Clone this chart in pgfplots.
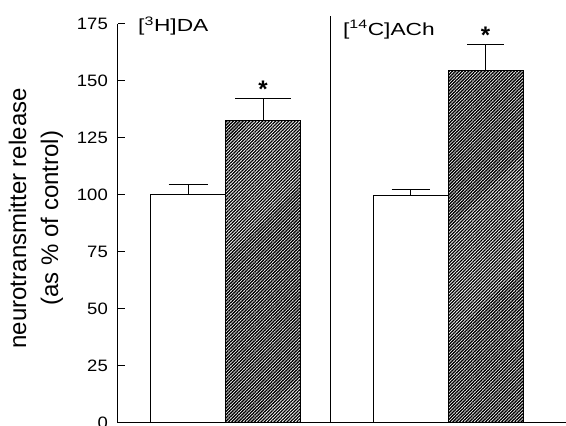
\documentclass[border=0pt]{standalone}
\usepackage{fontspec}
\setmainfont{Liberation Sans}
\usepackage{pgfplots}
\pgfplotsset{compat=1.18}
\usetikzlibrary{patterns.meta}
\begin{document}
\begin{tikzpicture}[x=1pt,y=1pt]
\useasboundingbox (0,0) rectangle (566,426);
\begin{axis}[
  at={(118pt,3pt)}, anchor=south west,
  scale only axis, width=448pt, height=399pt,
  xmin=0, xmax=5.973, ymin=0, ymax=175,
  axis x line=bottom, axis y line=left,
  axis line style={-, line width=1pt, black},
  xtick=\empty, ytick={0,25,...,175},
  tick align=inside, major tick length=7pt,
  tick style={line width=1pt, black},
  /pgf/number format/assume math mode=true,
  yticklabel style={font=\fontsize{16.5}{16.5}\selectfont, inner sep=0pt, xshift=-10pt},
  yticklabel={\scalebox{1.12}[1]{\pgfmathprintnumber{\tick}}},
  clip=false,
]
% control DA
\addplot[ybar, bar shift=0pt, bar width=1, fill=white, draw=black, line width=1pt,
  error bars/.cd, y dir=plus, y explicit,
  error bar style={line width=1pt, black},
  error mark options={rotate=90, mark size=19.5pt, line width=1pt, black}]
  coordinates {(0.935,100) +- (0,4.8)};
% treated DA
\addplot[ybar, bar shift=0pt, bar width=1, draw=black, line width=1pt,
  pattern={Lines[angle=45,distance=2.3pt,line width=1.35pt]},
  error bars/.cd, y dir=plus, y explicit,
  error bar style={line width=1pt, black},
  error mark options={rotate=90, mark size=28pt, line width=1pt, black}]
  coordinates {(1.935,132.8) +- (0,9.4)};
% control ACh
\addplot[ybar, bar shift=0pt, bar width=1, fill=white, draw=black, line width=1pt,
  error bars/.cd, y dir=plus, y explicit,
  error bar style={line width=1pt, black},
  error mark options={rotate=90, mark size=19pt, line width=1pt, black}]
  coordinates {(3.9,99.8) +- (0,2.6)};
% treated ACh
\addplot[ybar, bar shift=0pt, bar width=1, draw=black, line width=1pt,
  pattern={Lines[angle=45,distance=2.3pt,line width=1.35pt]},
  error bars/.cd, y dir=plus, y explicit,
  error bar style={line width=1pt, black},
  error mark options={rotate=90, mark size=18.5pt, line width=1pt, black}]
  coordinates {(4.9,154.6) +- (0,11.6)};
\draw[line width=1pt] (axis cs:2.827,0) -- (axis cs:2.827,178.5);
\node[anchor=base west, inner sep=0pt, font=\fontsize{17.5}{17.5}\selectfont] at (axis description cs:0.0446,0.98) {\scalebox{1.3}[1]{[\textsuperscript{3}H]DA}};
\node[anchor=base west, inner sep=0pt, font=\fontsize{17.5}{17.5}\selectfont] at (axis description cs:0.502,0.972) {\scalebox{1.3}[1]{[\textsuperscript{14}C]ACh}};
\node[anchor=base, inner sep=0pt, font=\fontsize{24}{24}\selectfont\bfseries, yshift=-14pt] at (axis cs:1.935,149.1) {*};
\node[anchor=base, inner sep=0pt, font=\fontsize{24}{24}\selectfont\bfseries, yshift=-14pt] at (axis cs:4.9,172.4) {*};
\node[rotate=90, align=center, font=\fontsize{24}{32}\selectfont] at (axis description cs:-0.183,0.513) {neurotransmitter release\\(as \% of control)};
\end{axis}
\end{tikzpicture}
\end{document}
